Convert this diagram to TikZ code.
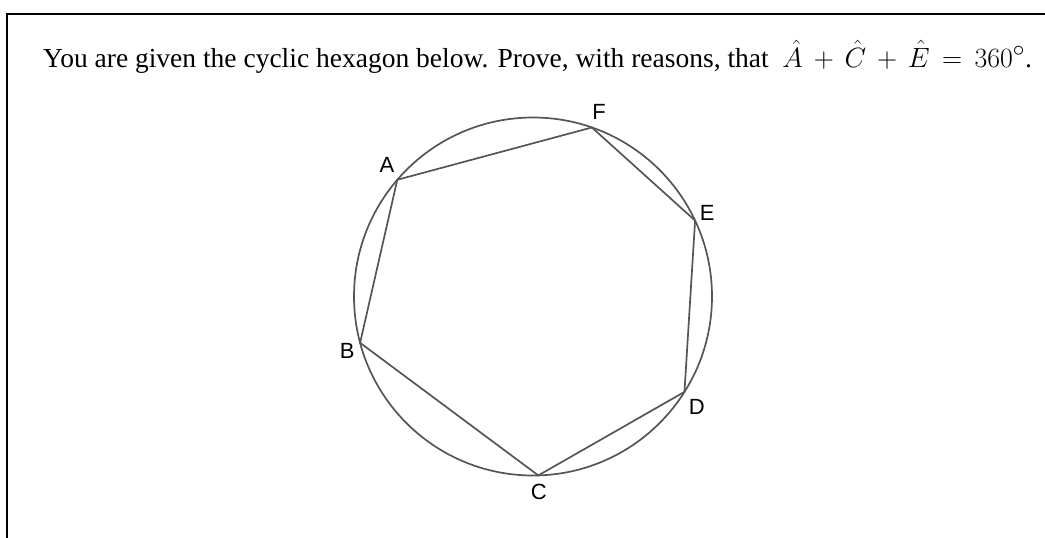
\documentclass[tikz,border=0pt]{standalone}
\usepackage{graphicx}
\usepackage{fontspec}
\setmainfont{Liberation Serif}
\newfontfamily\labelfont{Liberation Sans}
\usetikzlibrary{positioning,calc}
\definecolor{RimGray}{RGB}{85,85,85}

\begin{document}
\begin{tikzpicture}[
    x=1pt,
    y=-1pt,
    frame/.style={
        draw=black,
        line width=1.4pt
    },
    rim/.style={
        draw=RimGray,
        line width=1.7pt
    },
    task/.style={
        anchor=base west,
        inner sep=0pt,
        font=\fontsize{27.5}{32}\selectfont
    },
    vlabel/.style={
        inner sep=0pt,
        font=\labelfont\fontsize{22}{22}\selectfont
    }
]
\useasboundingbox (0,0) rectangle (1045,538);

\coordinate (frameBL) at (7,538);
\coordinate (frameTL) at (7,14);
\coordinate (frameTR) at (1045,14);
\draw[frame] (frameBL) -- (frameTL) -- (frameTR);

\node[task] (question) at (43,67) {You are given the cyclic hexagon below. Prove, with reasons, that\ \ \scalebox{1.12}{$\hat{A}\,+\,\hat{C}\,+\,\hat{E}\,=\,360^\circ$}.};

\coordinate (O) at (533,296.5);
\path (O) ++(-139.3:179) coordinate (A);
\path (O) ++(-195:179) coordinate (B);
\path (O) ++(88.3:179) coordinate (C);
\path (O) ++(32.2:179) coordinate (D);
\path (O) ++(-25.1:179) coordinate (E);
\path (O) ++(-70.8:179) coordinate (F);

\draw[rim] (O) circle[radius=179];
\draw[rim, line join=miter] (A) -- (F) -- (E) -- (D) -- (C) -- (B) -- cycle;

\node[vlabel] (labA) at (387,165.3) {A};
\node[vlabel] (labB) at (347.2,350.8) {B};
\node[vlabel] (labC) at (538.7,492.3) {C};
\node[vlabel] (labD) at (696.7,407) {D};
\node[vlabel] (labE) at (707.3,213.3) {E};
\node[vlabel] (labF) at (599,111.5) {F};

\end{tikzpicture}
\end{document}
